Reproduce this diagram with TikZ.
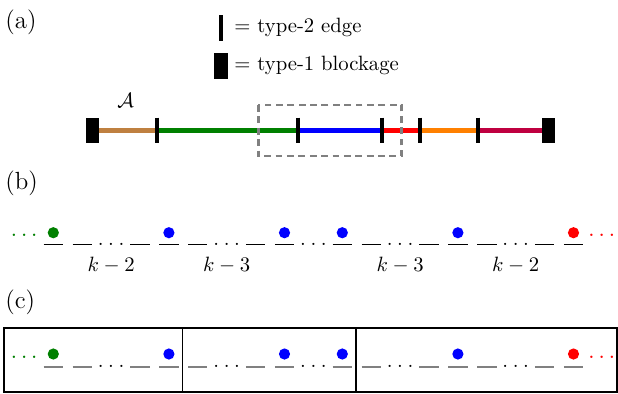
\documentclass[tikz,border=0pt]{standalone}
\newcommand\mydots{$.\mkern4mu.\mkern4mu.$}
\newcommand\mybigdots{$.\mkern2.5mu.\mkern2.5mu.$}
\tikzset{
  panellabel/.style={font=\large, anchor=base west, inner sep=0pt},
  legendtext/.style={anchor=base west, inner sep=0pt},
  typetwo/.style={line width=1.45pt, draw=black},
  blockage/.style={fill=black},
  edgeline/.style={line width=2.4pt},
  segb/.style={line width=0.5pt, draw=black},
  segc/.style={line width=0.85pt, draw=gray},
  ellip/.style={anchor=base, inner sep=0pt},
  bigellip/.style={anchor=base, inner sep=0pt, font=\large},
  klabel/.style={anchor=base, inner sep=0pt},
  framec/.style={line width=0.8pt, draw=black}
}
\begin{document}
\begin{tikzpicture}[x=0.4831pt,y=-0.4831pt]
\useasboundingbox[fill=white] (0,0) rectangle (618,393);

% ---------- (a) ----------
\node[panellabel] (la) at (5,28.8) {(a)};
% legend
\fill[black] (219.4,15) rectangle (222.7,40.7);
\node[legendtext] (leg2) at (234,32.9) {$=$ type-2 edge};
\fill[blockage] (214,53.3) rectangle (227.7,79);
\node[legendtext] (leg1) at (234,70.2) {$=$ type-1 blockage};

\node (calA) at (125.7,100) {$\mathcal{A}$};

% line
\coordinate (p0) at (92.5,130.5);
\coordinate (p1) at (157,130.5);
\coordinate (p2) at (298,130.5);
\coordinate (p3) at (382,130.5);
\coordinate (p4) at (420,130.5);
\coordinate (p5) at (478,130.5);
\coordinate (p6) at (548.5,130.5);
\draw[edgeline, brown] (p0) -- (p1);
\draw[edgeline, green!50!black] (p1) -- (p2);
\draw[edgeline, blue] (p2) -- (p3);
\draw[edgeline, red] (p3) -- (p4);
\draw[edgeline, orange] (p4) -- (p5);
\draw[edgeline, purple] (p5) -- (p6);
\foreach \p in {p1,p2,p3,p4,p5} {
  \draw[typetwo] ([yshift=6.2pt]\p) -- ([yshift=-6.2pt]\p);
}
\fill[blockage] (86,117.7) rectangle (99,143.3);
\fill[blockage] (542,117.7) rectangle (555,143.3);

% dashed box
\draw[gray, line width=1.3pt, dash pattern=on 3.3pt off 2.2pt] (258.3,105) rectangle (401.7,156);

% ---------- (b) ----------
\node[panellabel] (lb) at (5,189.8) {(b)};
\node[panellabel] (lc) at (5,308.8) {(c)};

\foreach \n in {0,1,3,4,5,7,8,10,11,13,14,15,17,18} {
  \pgfmathsetmacro\xc{53.3+28.9*\n}
  \draw[segb] (\xc-9.7,244.3) -- (\xc+9.7,244.3);
  \draw[segc] (\xc-9.7,366.7) -- (\xc+9.7,366.7);
}
\foreach \n in {2,6,9,12,16} {
  \pgfmathsetmacro\xc{53.3+28.9*\n}
  \node[ellip] at (\xc,245.4) {\mydots};
  \node[ellip] at (\xc,367.8) {\mydots};
}
% coloured ellipses
\node[bigellip, text=green!50!black] (gb) at (24.2,236.3) {\mybigdots};
\node[bigellip, text=red] (rb) at (601.8,236.3) {\mybigdots};
\node[bigellip, text=green!50!black] (gc) at (24.2,358) {\mybigdots};
\node[bigellip, text=red] (rc) at (601.8,358) {\mybigdots};

% dots
\foreach \n/\col in {0/green!50!black,4/blue,8/blue,10/blue,14/blue,18/red} {
  \pgfmathsetmacro\xc{53.3+28.9*\n}
  \fill[\col] (\xc,232.7) circle[radius=5.6];
  \fill[\col] (\xc,354) circle[radius=5.6];
}

% k labels
\node[klabel] (k1) at (111.1,271.6) {$k-2$};
\node[klabel] (k2) at (226.7,271.6) {$k-3$};
\node[klabel] (k3) at (400.1,271.6) {$k-3$};
\node[klabel] (k4) at (515.7,271.6) {$k-2$};

% ---------- (c) frame ----------
\draw[framec] (4.3,328.3) rectangle (617.2,391.7);
\draw[framec] (182.5,328.3) -- (182.5,391.7);
\draw[framec] (356,328.3) -- (356,391.7);
\end{tikzpicture}
\end{document}
